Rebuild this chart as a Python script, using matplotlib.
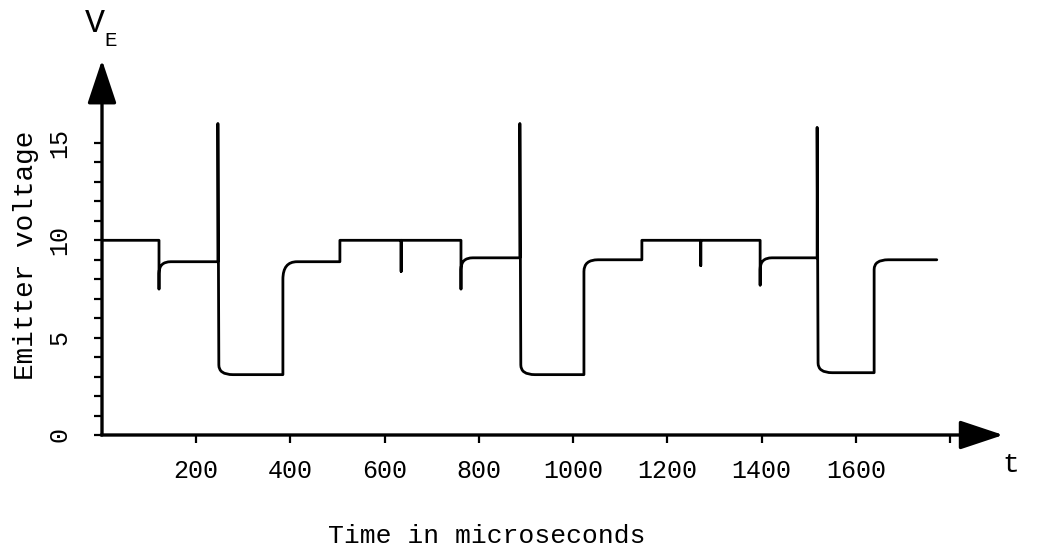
import numpy as np
import matplotlib.pyplot as plt
from matplotlib.path import Path
from matplotlib.patches import PathPatch

# emitter voltage waveform (time in microseconds, volts)
v_high = 10.0
t_drop = [121, 762, 1397]
v_undershoot = [7.5, 7.5, 7.7]
v_mid1 = [8.9, 9.1, 9.1]
t_spike = [246, 887, 1518]
v_spike = [16.0, 16.0, 15.8]
v_low = [3.1, 3.1, 3.2]
t_low_end = [384, 1023, 1639]
v_rise = [8.0, 8.4, 8.5]
v_mid2 = [8.9, 9.0, 9.0]
t_step_up = [505, 1146]
t_notch = [635, 1271]
v_notch = [8.4, 8.7]
t_end = 1772

xtick_pos = [200, 400, 600, 800, 1000, 1200, 1400, 1600, 1800]
xtick_lab = ['200', '400', '600', '800', '1000', '1200', '1400', '1600', '']
ytick_major = [0, 5, 10, 15]
ytick_minor = list(range(1, 15))

FONT = 'Liberation Mono'

fig = plt.figure(figsize=(10.37, 5.49), dpi=100)
ax = fig.add_axes([102 / 1037, 1 - 435 / 549, 1 - 102 / 1037, 435 / 549])
ax.set_xlim(0, (1037 - 102) / 0.4711)
ax.set_ylim(0, 435 / 19.47)
for s in ax.spines.values():
    s.set_visible(False)

# build the trace as one path with rounded corners
M, L, C = Path.MOVETO, Path.LINETO, Path.CURVE3
verts = [(0, v_high)]
codes = [M]


def add(code, x, y):
    verts.append((x, y))
    codes.append(code)


for k in range(3):
    td = t_drop[k]
    add(L, td, v_high)
    add(L, td, v_undershoot[k])
    add(L, td, v_mid1[k] - 0.6)
    add(C, td, v_mid1[k])
    add(C, td + 25, v_mid1[k])
    ts = t_spike[k]
    add(L, ts, v_mid1[k])
    add(L, ts, v_spike[k])
    add(L, ts + 2, v_low[k] + 0.5)
    add(C, ts + 2, v_low[k])
    add(C, ts + 32, v_low[k])
    tl = t_low_end[k]
    add(L, tl, v_low[k])
    add(L, tl, v_rise[k])
    add(C, tl, v_mid2[k])
    add(C, tl + 30, v_mid2[k])
    if k < 2:
        add(L, t_step_up[k], v_mid2[k])
        add(L, t_step_up[k], v_high)
        add(L, t_notch[k], v_high)
        add(L, t_notch[k], v_notch[k])
        add(L, t_notch[k], v_high)
    else:
        add(L, t_end, v_mid2[k])

trace = PathPatch(Path(verts, codes), fill=False, edgecolor='black', lw=2.0,
                  joinstyle='round', capstyle='round')
ax.add_patch(trace)

# axes drawn as arrows
arrow = dict(arrowstyle='-|>,head_length=2.7,head_width=0.9', lw=2.4,
             color='black', shrinkA=0, shrinkB=0, mutation_scale=10)
ax.annotate('', xy=(0, 19.26), xytext=(0, 0), arrowprops=arrow, annotation_clip=False)
ax.annotate('', xy=(1913, 0), xytext=(-2, 0), arrowprops=arrow, annotation_clip=False)

ax.set_xticks(xtick_pos)
ax.set_xticklabels(xtick_lab, fontfamily=FONT, fontsize=18)
ax.set_yticks(ytick_major)
ax.set_yticklabels([str(v) for v in ytick_major], fontfamily=FONT, fontsize=18,
                   rotation=90, va='center')
ax.set_yticks(ytick_minor, minor=True)
ax.tick_params(axis='x', direction='out', length=6, width=1.6, pad=11)
ax.tick_params(axis='y', which='both', direction='out', length=6, width=1.6, pad=16)

fig.text(26 / 1037, 1 - 255 / 549, 'Emitter voltage', rotation=90, ha='center',
         va='center', fontfamily=FONT, fontsize=20)
fig.text(487 / 1037, 1 - 536 / 549, 'Time in microseconds', ha='center',
         va='center', fontfamily=FONT, fontsize=19)
fig.text(1011 / 1037, 1 - 465 / 549, 't', ha='center', va='center',
         fontfamily=FONT, fontsize=20)
fig.text(95 / 1037, 1 - 23 / 549, 'V', ha='center', va='center',
         fontfamily=FONT, fontsize=24)
fig.text(111 / 1037, 1 - 40 / 549, 'E', ha='center', va='center',
         fontfamily=FONT, fontsize=15)

plt.savefig('out.png', dpi=100)
